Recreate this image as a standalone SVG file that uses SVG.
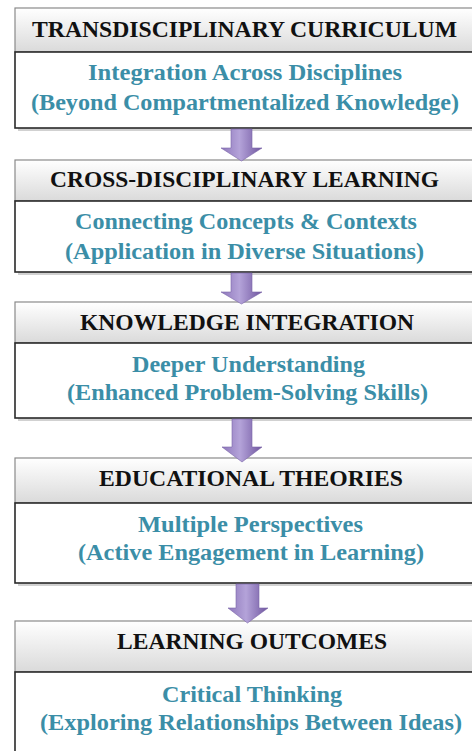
<svg xmlns="http://www.w3.org/2000/svg" width="472" height="751" viewBox="0 0 472 751">
<defs>
<linearGradient id="hdr" x1="0" y1="0" x2="0" y2="1">
<stop offset="0" stop-color="#ffffff"/>
<stop offset="1" stop-color="#dadada"/>
</linearGradient>
<linearGradient id="arr" x1="0" y1="0" x2="1" y2="0">
<stop offset="0" stop-color="#8e77bb"/>
<stop offset="0.45" stop-color="#b4a3d9"/>
<stop offset="1" stop-color="#6f559f"/>
</linearGradient>
<style>
.shadow{fill:#9a9a9a;opacity:0.45}
.hd{fill:url(#hdr);stroke:#8a8a8a;stroke-width:1.2}
.bd{fill:#ffffff;stroke:#2a2a2a;stroke-width:1.6}
.title{font-family:"Liberation Serif","Times New Roman",serif;font-weight:bold;font-size:23px;fill:#111111;text-anchor:middle}
.sub{font-family:"Liberation Serif","Times New Roman",serif;font-weight:bold;font-size:24px;fill:#3b8ea7;text-anchor:middle}
.arrow{fill:url(#arr);stroke:#7a64a8;stroke-width:0.6}
</style>
</defs>

<g id="node1">
<rect class="shadow" x="18" y="11" width="470" height="120"/>
<rect class="hd" x="15" y="8" width="470" height="44"/>
<rect class="bd" x="15" y="52" width="470" height="76"/>
<text class="title" x="244.5" y="37" textLength="425" lengthAdjust="spacingAndGlyphs">TRANSDISCIPLINARY CURRICULUM</text>
<text class="sub" x="245" y="80" textLength="314" lengthAdjust="spacingAndGlyphs">Integration Across Disciplines</text>
<text class="sub" x="245" y="110" textLength="428" lengthAdjust="spacingAndGlyphs">(Beyond Compartmentalized Knowledge)</text>
</g>

<g id="node2">
<rect class="shadow" x="18" y="163" width="470" height="112"/>
<rect class="hd" x="15" y="160" width="470" height="41"/>
<rect class="bd" x="15" y="201" width="470" height="71"/>
<text class="title" x="244.5" y="187" textLength="389" lengthAdjust="spacingAndGlyphs">CROSS-DISCIPLINARY LEARNING</text>
<text class="sub" x="246" y="229" textLength="342" lengthAdjust="spacingAndGlyphs">Connecting Concepts &amp; Contexts</text>
<text class="sub" x="244.5" y="259" textLength="359" lengthAdjust="spacingAndGlyphs">(Application in Diverse Situations)</text>
</g>

<g id="node3">
<rect class="shadow" x="18" y="305" width="470" height="116"/>
<rect class="hd" x="15" y="302" width="470" height="41"/>
<rect class="bd" x="15" y="343" width="470" height="75"/>
<text class="title" x="247" y="330" textLength="334" lengthAdjust="spacingAndGlyphs">KNOWLEDGE INTEGRATION</text>
<text class="sub" x="248.5" y="372" textLength="233" lengthAdjust="spacingAndGlyphs">Deeper Understanding</text>
<text class="sub" x="247.5" y="400" textLength="361" lengthAdjust="spacingAndGlyphs">(Enhanced Problem-Solving Skills)</text>
</g>

<g id="node4">
<rect class="shadow" x="18" y="461" width="470" height="125"/>
<rect class="hd" x="15" y="458" width="470" height="45"/>
<rect class="bd" x="15" y="503" width="470" height="80"/>
<text class="title" x="251" y="486" textLength="304" lengthAdjust="spacingAndGlyphs">EDUCATIONAL THEORIES</text>
<text class="sub" x="250.5" y="532" textLength="225" lengthAdjust="spacingAndGlyphs">Multiple Perspectives</text>
<text class="sub" x="251" y="560" textLength="346" lengthAdjust="spacingAndGlyphs">(Active Engagement in Learning)</text>
</g>

<g id="node5">
<rect class="shadow" x="18" y="624" width="470" height="140"/>
<rect class="hd" x="15" y="621" width="470" height="51"/>
<rect class="bd" x="15" y="672" width="470" height="90"/>
<text class="title" x="252" y="649" textLength="270" lengthAdjust="spacingAndGlyphs">LEARNING OUTCOMES</text>
<text class="sub" x="252" y="702" textLength="180" lengthAdjust="spacingAndGlyphs">Critical Thinking</text>
<text class="sub" x="251" y="730" textLength="422" lengthAdjust="spacingAndGlyphs">(Exploring Relationships Between Ideas)</text>
</g>

<g id="connectors">
<path class="arrow" d="M231,129 H252 V148 H262 L241.5,161 L221,148 H231 Z"/>
<path class="arrow" d="M231,273 H252 V292 H262 L241.5,304 L221,292 H231 Z"/>
<path class="arrow" d="M232,419 H252 V447 H262 L242,462 L222,447 H232 Z"/>
<path class="arrow" d="M236,584 H259 V608 H268 L247.5,623 L228,608 H236 Z"/>
</g>
</svg>
